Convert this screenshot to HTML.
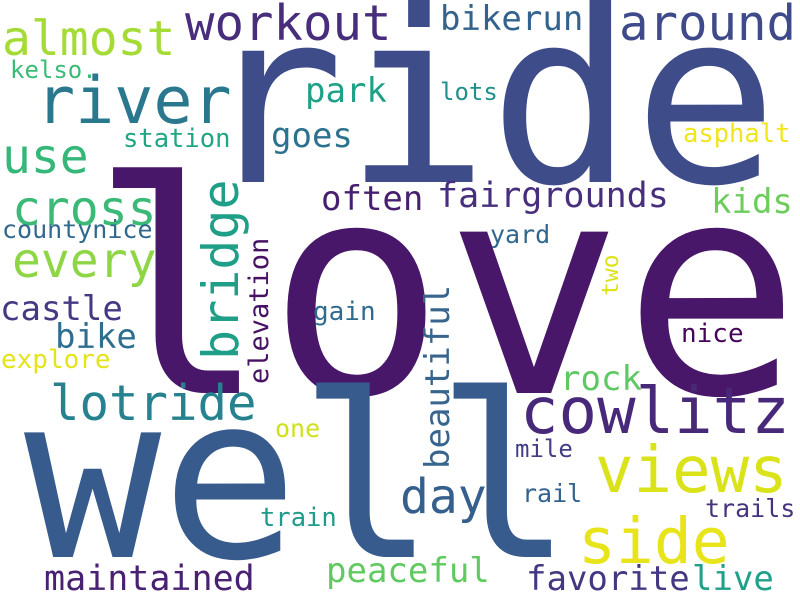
<!DOCTYPE html>
<html><head><meta charset="utf-8"><style>
html,body{margin:0;padding:0;background:#fff}
svg{display:block}
text{font-family:"DejaVu Sans Mono","Liberation Mono",monospace}
</style></head><body>
<svg width="800" height="600" viewBox="0 0 800 600">
<rect width="800" height="600" fill="#fff"/>
<text x="90" y="393" font-size="295" fill="#481769">love</text>
<text x="200" y="182" font-size="240" fill="#3e4c8a">ride</text>
<text x="24" y="557" font-size="228" fill="#375b8d">well</text>
<text x="2" y="55" font-size="48" fill="#a5db36">almost</text>
<text x="185" y="40" font-size="49" fill="#472d7b">workout</text>
<text x="10" y="78" font-size="24" fill="#3bbb75">kelso.</text>
<text x="36" y="123" font-size="65" fill="#2a788e">river</text>
<text x="305" y="102" font-size="34" fill="#1fa187">park</text>
<text x="123" y="147" font-size="25.5" fill="#21a685">station</text>
<text x="271" y="147" font-size="34" fill="#2c718e">goes</text>
<text x="2" y="173" font-size="48" fill="#35b779">use</text>
<text x="12" y="225" font-size="48" fill="#3aba76">cross</text>
<text x="321" y="210" font-size="34" fill="#481f70">often</text>
<text x="2" y="238" font-size="25" fill="#31688e">countynice</text>
<text x="12" y="277" font-size="48" fill="#8ed645">every</text>
<text transform="translate(238,360) rotate(-90)" font-size="50" fill="#1f9f88">bridge</text>
<text transform="translate(268,384) rotate(-90)" font-size="27" fill="#471164">elevation</text>
<text x="0" y="320" font-size="34" fill="#443a83">castle</text>
<text x="55" y="348" font-size="34" fill="#2e6e8e">bike</text>
<text x="1" y="368" font-size="26" fill="#e5e419">explore</text>
<text x="50" y="420" font-size="49" fill="#26828e">lotride</text>
<text x="275" y="437" font-size="25" fill="#d0e11c">one</text>
<text x="260" y="526" font-size="25.5" fill="#1e9b8a">train</text>
<text x="44" y="590" font-size="35" fill="#482173">maintained</text>
<text x="313" y="320" font-size="26" fill="#2f6b8e">gain</text>
<text x="326" y="582" font-size="34" fill="#60ca60">peaceful</text>
<text x="440" y="30" font-size="34" fill="#33638d">bikerun</text>
<text x="619" y="40" font-size="49" fill="#3e4a89">around</text>
<text x="440" y="100" font-size="24" fill="#21908d">lots</text>
<text x="683" y="142" font-size="25.5" fill="#f1e51d">asphalt</text>
<text x="437" y="207" font-size="35" fill="#472f7d">fairgrounds</text>
<text x="711" y="213" font-size="34" fill="#6ccd5a">kids</text>
<text x="490" y="243" font-size="25" fill="#31678e">yard</text>
<text transform="translate(618,296) rotate(-90)" font-size="23" fill="#dde318">two</text>
<text x="681" y="342" font-size="26" fill="#450559">nice</text>
<text x="560" y="390" font-size="34" fill="#5ec962">rock</text>
<text x="520" y="433" font-size="64" fill="#482878">cowlitz</text>
<text x="515" y="457" font-size="24" fill="#433d84">mile</text>
<text x="595" y="492" font-size="64" fill="#dae319">views</text>
<text x="400" y="513" font-size="48" fill="#355f8d">day</text>
<text x="522" y="502" font-size="25" fill="#33628d">rail</text>
<text x="705" y="517" font-size="25" fill="#46327e">trails</text>
<text x="578" y="563" font-size="63" fill="#e7e419">side</text>
<text x="526" y="590" font-size="34" fill="#453781">favorite</text>
<text x="692" y="590" font-size="34" fill="#1fa088">live</text>
<text transform="translate(449,469) rotate(-90)" font-size="34" fill="#38658d">beautiful</text>
</svg>
</body></html>
